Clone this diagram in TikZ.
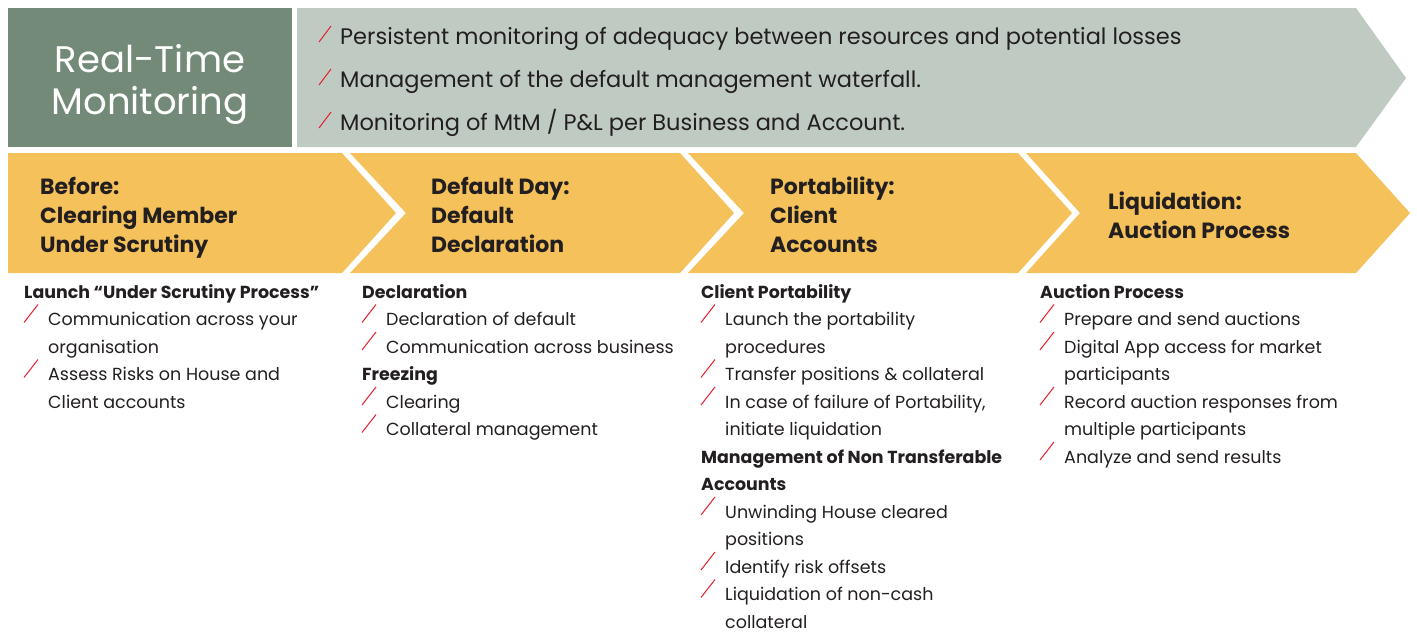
\documentclass[tikz,border=0pt]{standalone}
\usepackage{fontspec}
\setmainfont{Poppins}
\definecolor{mossdark}{HTML}{728A77}
\definecolor{mosslight}{HTML}{BFCBC2}
\definecolor{stepyellow}{HTML}{F4C15A}
\definecolor{inkdark}{HTML}{231F20}
\definecolor{slashred}{HTML}{E4202E}
\tikzset{
  redslash/.style={draw=slashred, line width=1pt},
  topitem/.style={anchor=base west, inner sep=0pt, text=inkdark, font=\fontsize{22.5}{24}\selectfont,
    append after command={(\tikzlastnode.base west) ++(-21,-2) edge[redslash] ++(12,-16)}},
  steptitle/.style={anchor=base west, inner sep=0pt, text=inkdark, align=left,
    font=\bfseries\fontsize{22}{29}\selectfont},
  listhead/.style={anchor=base west, inner sep=0pt, text=inkdark, font=\bfseries\fontsize{17.4}{20}\selectfont},
  listmore/.style={anchor=base west, inner sep=0pt, text=inkdark, font=\fontsize{17.5}{20}\selectfont, xshift=24pt},
  listitem/.style={listmore,
    append after command={(\tikzlastnode.base west) ++(-24,-3) edge[redslash] ++(14,-18)}},
}
\begin{document}
\begin{tikzpicture}[x=1pt,y=-1pt]
  \useasboundingbox (0,0) rectangle (1417,633);
  % bandeau du haut
  \fill[mossdark] (8,8) rectangle (292,147);
  \fill[mosslight] (297,8) -- (1356,8) -- (1406,78) -- (1356,147) -- (297,147) -- cycle;
  \node[text=white, align=center, inner sep=0pt, font=\fontsize{37}{42}\selectfont] (rtm) at (150,84)
    {Real-Time\\Monitoring};
  \node[topitem] (top1) at (340,44) {Persistent monitoring of adequacy between resources and potential losses};
  \node[topitem] (top2) at (340,87) {Management of the default management waterfall.};
  \node[topitem] (top3) at (340,130) {Monitoring of MtM / P\&L per Business and Account.};
  % les quatre etapes
  \foreach \l/\r/\n in {8/342/0, 350/680/56, 688/1018/56, 1026/1356/54}
    \fill[stepyellow] (\l,153) -- (\r,153) -- (\r+54,213) -- (\r,273) -- (\l,273) -- (\l+\n,213) -- cycle;
  % ancre = ligne de base de la derniere ligne
  \node[steptitle] (s1) at (40,252) {Before:\\Clearing Member\\Under Scrutiny};
  \node[steptitle] (s2) at (431,252) {Default Day:\\Default\\Declaration};
  \node[steptitle] (s3) at (770,252) {Portability:\\Client\\Accounts};
  \node[steptitle] (s4) at (1108,238) {Liquidation:\\Auction Process};
  % listes sous les etapes
  \foreach \s/\t [count=\i from 0] in {listhead/Launch “Under Scrutiny Process”,
      listitem/Communication across your, listmore/organisation,
      listitem/Assess Risks on House and, listmore/Client accounts}
    \node[\s] (a\i) at (24,{298+27.5*\i}) {\t};
  \foreach \s/\t [count=\i from 0] in {listhead/Declaration,
      listitem/Declaration of default, listitem/Communication across business,
      listhead/Freezing, listitem/Clearing, listitem/Collateral management}
    \node[\s] (b\i) at (362,{298+27.5*\i}) {\t};
  \foreach \s/\t [count=\i from 0] in {listhead/Client Portability,
      listitem/Launch the portability, listmore/procedures,
      listitem/Transfer positions \& collateral,
      listitem/{In case of failure of Portability,}, listmore/initiate liquidation,
      listhead/Management of Non Transferable, listhead/Accounts,
      listitem/Unwinding House cleared, listmore/positions,
      listitem/Identify risk offsets,
      listitem/Liquidation of non-cash, listmore/collateral}
    \node[\s] (c\i) at (701,{298+27.5*\i}) {\t};
  \foreach \s/\t [count=\i from 0] in {listhead/Auction Process,
      listitem/Prepare and send auctions,
      listitem/Digital App access for market, listmore/participants,
      listitem/Record auction responses from, listmore/multiple participants,
      listitem/Analyze and send results}
    \node[\s] (d\i) at (1040,{298+27.5*\i}) {\t};
\end{tikzpicture}
\end{document}
